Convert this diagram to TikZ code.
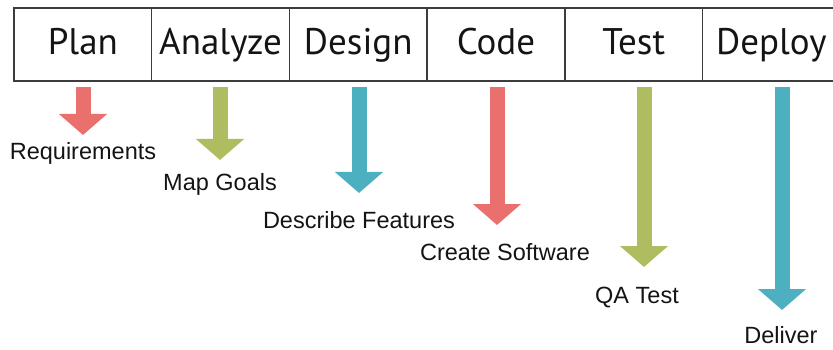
\documentclass[tikz,border=0pt]{standalone}
\usepackage{fontspec}
\setmainfont{Liberation Sans}
\newfontfamily\phasefont{PT Sans}
\usetikzlibrary{arrows.meta}

\definecolor{arrowred}{RGB}{234,112,110}
\definecolor{arrowgreen}{RGB}{176,188,96}
\definecolor{arrowteal}{RGB}{76,176,192}
\definecolor{frame}{RGB}{60,60,60}
\definecolor{ink}{RGB}{20,20,20}

\tikzset{
  phase/.style={draw=frame, line width=1.4pt, minimum width=137.7pt, minimum height=73pt,
    inner sep=0pt, outer sep=0pt, anchor=north west, text=ink,
    font=\phasefont\fontsize{37}{37}\selectfont, text height=27pt, text depth=6pt},
  outcome/.style={anchor=base, inner sep=0pt, text=ink, font=\fontsize{23.5}{23.5}\selectfont},
  flow/.style={line width=15pt, -{Triangle[width=47pt,length=21pt]}}
}

\begin{document}
\begin{tikzpicture}[x=1pt,y=-1pt]
  \useasboundingbox (0,0) rectangle (833,350);
  \clip (0,0) rectangle (833,350);

  % row of phase boxes
  \node[phase] (plan)    at (14,8)            {Plan};
  \node[phase] (analyze) at (plan.north east)    {Analyze};
  \node[phase] (design)  at (analyze.north east) {Design};
  \node[phase] (code)    at (design.north east)  {Code};
  \node[phase] (test)    at (code.north east)    {Test};
  \node[phase] (deploy)  at (test.north east)    {Deploy};

  % arrow tips
  \coordinate (t1) at (83,135);
  \coordinate (t2) at (220,160);
  \coordinate (t3) at (359,193);
  \coordinate (t4) at (497,225);
  \coordinate (t5) at (644,267);
  \coordinate (t6) at (782,310);

  % outcomes of each phase
  \node[outcome] (req)     at (83,160)  {Requirements};
  \node[outcome] (goals)   at (220,190) {Map Goals};
  \node[outcome] (feat)    at (359,228) {Describe Features};
  \node[outcome] (soft)    at (505,260) {Create Software};
  \node[outcome] (qa)      at (637,303) {QA Test};
  \node[outcome] (deliver) at (781,343) {Deliver};

  % arrows from phases to outcomes
  \draw[flow, arrowred]   ([yshift=-6pt]t1 |- plan.south)    -- (t1);
  \draw[flow, arrowgreen] ([yshift=-6pt]t2 |- analyze.south) -- (t2);
  \draw[flow, arrowteal]  ([yshift=-6pt]t3 |- design.south)  -- (t3);
  \draw[flow, arrowred]   ([yshift=-6pt]t4 |- code.south)    -- (t4);
  \draw[flow, arrowgreen] ([yshift=-6pt]t5 |- test.south)    -- (t5);
  \draw[flow, arrowteal]  ([yshift=-6pt]t6 |- deploy.south)  -- (t6);
\end{tikzpicture}
\end{document}
